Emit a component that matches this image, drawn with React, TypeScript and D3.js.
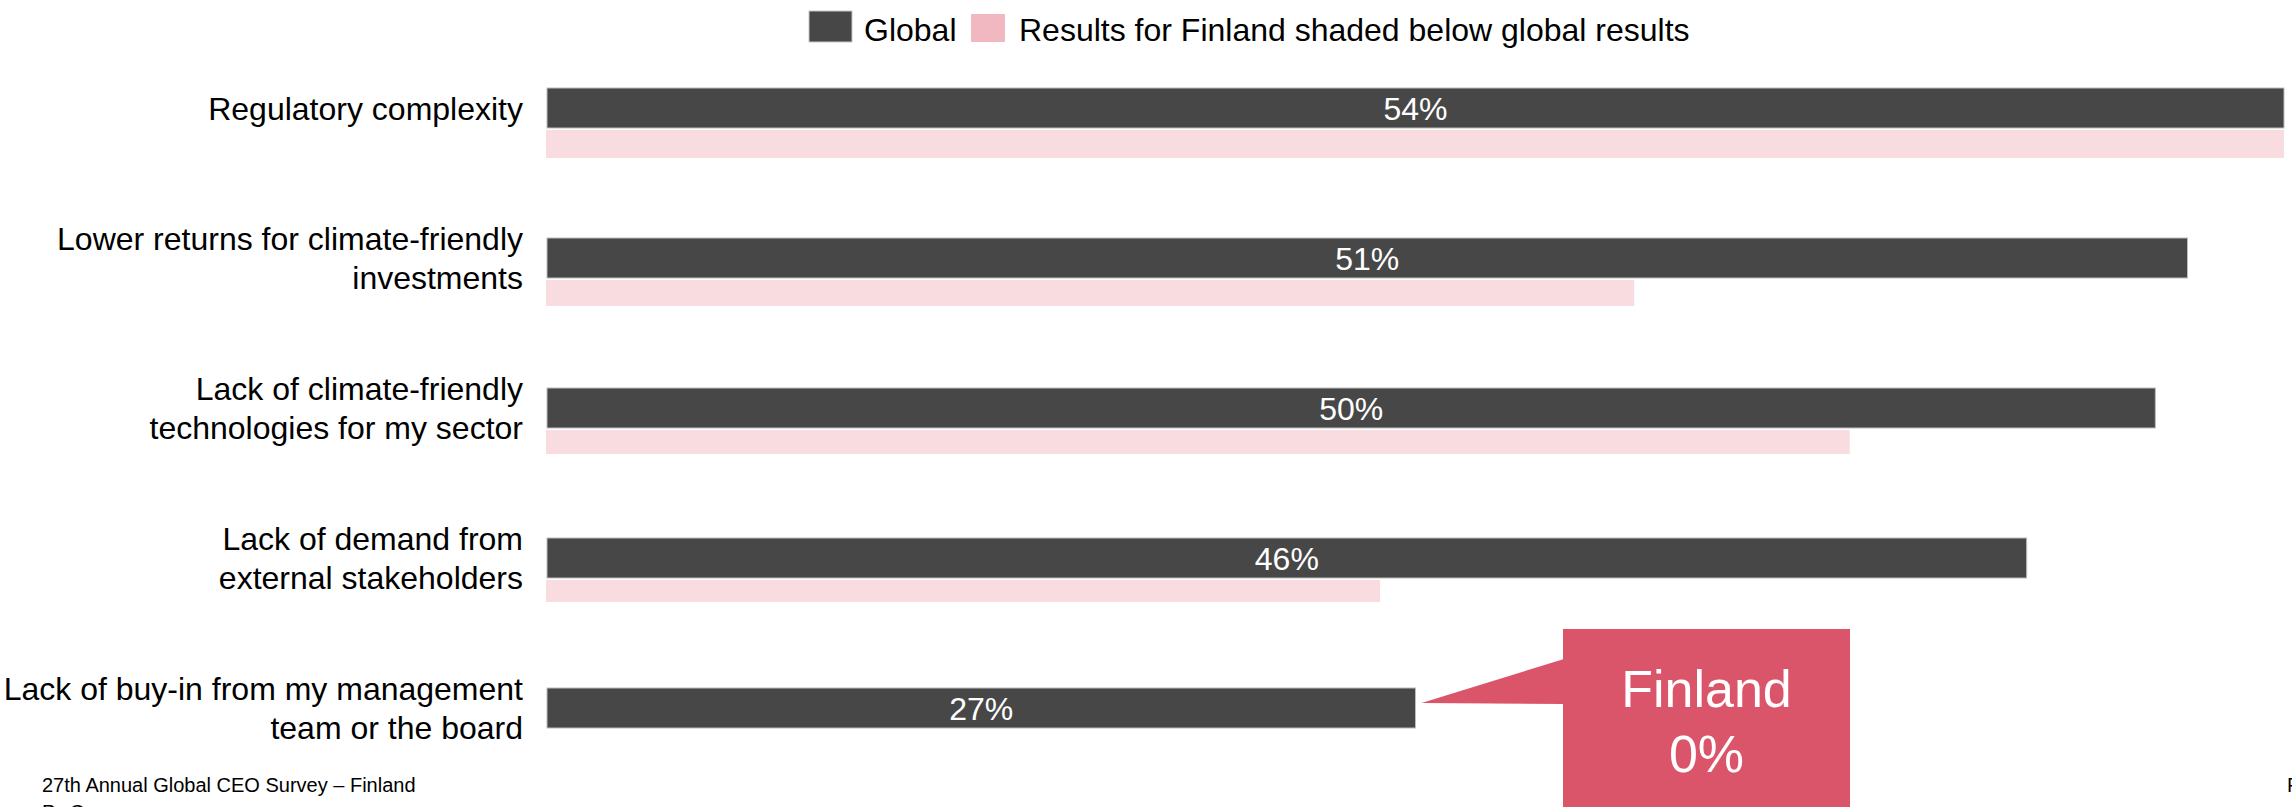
import React from "react";
import * as d3 from "d3";

const categories = [
  "Regulatory complexity",
  "Lower returns for climate-friendly investments",
  "Lack of climate-friendly technologies for my sector",
  "Lack of demand from external stakeholders",
  "Lack of buy-in from my management team or the board",
];
const categoryLines = [
  ["Regulatory complexity"],
  ["Lower returns for climate-friendly", "investments"],
  ["Lack of climate-friendly", "technologies for my sector"],
  ["Lack of demand from", "external stakeholders"],
  ["Lack of buy-in from my management", "team or the board"],
];
const globalValues = [54, 51, 50, 46, 27];
const finlandValues = [54, 33.8, 40.5, 25.9, 0];
const legendLabels = ["Global", "Results for Finland shaded below global results"];
const calloutLines = ["Finland", "0%"];
const footerText = "27th Annual Global CEO Survey – Finland";

const W = 2292;
const H = 807;
const FONT = "'Liberation Sans', Arial, sans-serif";
const DARK = "#474747";
const PINK_BAR = "#F9DCE0";
const PINK_LEGEND = "#F2B8C2";
const CALLOUT = "#DB556A";
const PINK_H = [28, 26, 24, 22, 0];

export default function App() {
  const x = d3.scaleLinear().domain([0, 54]).range([547, 2284]);
  const y = d3.scaleBand<string>().domain(categories).range([88, 838]).padding(0);
  const barH = 40;

  const lastIdx = categories.length - 1;
  const lastTop = y(categories[lastIdx])!;
  const tipX = x(globalValues[lastIdx]) + 6;
  const tipY = lastTop + barH / 2 - 5;
  const rectX = 1563;
  const rectW = 287;
  const rectY = 629;

  return (
    <svg
      width={W}
      height={H}
      style={{ position: "absolute", left: 0, top: 0, background: "#fff" }}
      fontFamily={FONT}
    >
      {/* Legend */}
      <rect x={809} y={11} width={43} height={31} fill={DARK} stroke="#c8c8c8" strokeWidth={1} />
      <text x={864} y={41} fontSize={32} fill="#000">{legendLabels[0]}</text>
      <rect x={971} y={14} width={34} height={28} fill={PINK_LEGEND} />
      <text x={1019} y={41} fontSize={32} fill="#000">{legendLabels[1]}</text>

      {categories.map((c, i) => {
        const top = y(c)!;
        const cy = top + barH / 2;
        const lines = categoryLines[i];
        const lh = 38.5;
        const firstBase = cy + 11.5 - ((lines.length - 1) * lh) / 2;
        return (
          <g key={c}>
            <rect
              x={x(0)}
              y={top}
              width={x(globalValues[i]) - x(0)}
              height={barH}
              fill={DARK}
              stroke="#bdbdbd"
              strokeWidth={1}
            />
            {finlandValues[i] > 0 && (
              <rect
                x={x(0) - 1}
                y={top + barH + 2}
                width={x(finlandValues[i]) - x(0) + 1}
                height={PINK_H[i]}
                fill={PINK_BAR}
              />
            )}
            <text
              x={(x(0) + x(globalValues[i])) / 2}
              y={cy + 11.5}
              fontSize={32}
              fill="#fff"
              textAnchor="middle"
            >
              {globalValues[i]}%
            </text>
            {lines.map((ln, k) => (
              <text
                key={k}
                x={523}
                y={firstBase + k * lh}
                fontSize={32}
                fill="#000"
                textAnchor="end"
              >
                {ln}
              </text>
            ))}
          </g>
        );
      })}

      {/* Callout */}
      <rect x={rectX} y={rectY} width={rectW} height={H - rectY + 10} fill={CALLOUT} />
      <polygon
        points={`${rectX + 1},${659} ${tipX},${tipY} ${rectX + 1},${704}`}
        fill={CALLOUT}
      />
      {calloutLines.map((t, k) => (
        <text
          key={t}
          x={rectX + rectW / 2}
          y={707 + k * 65}
          fontSize={52}
          fill="#fff"
          textAnchor="middle"
        >
          {t}
        </text>
      ))}

      {/* Footer */}
      <text x={42} y={792} fontSize={20} fill="#000">{footerText}</text>
      <text x={42} y={819} fontSize={20} fill="#000">PwC</text>
      <text x={2287} y={792} fontSize={20} fill="#000">F</text>
    </svg>
  );
}
